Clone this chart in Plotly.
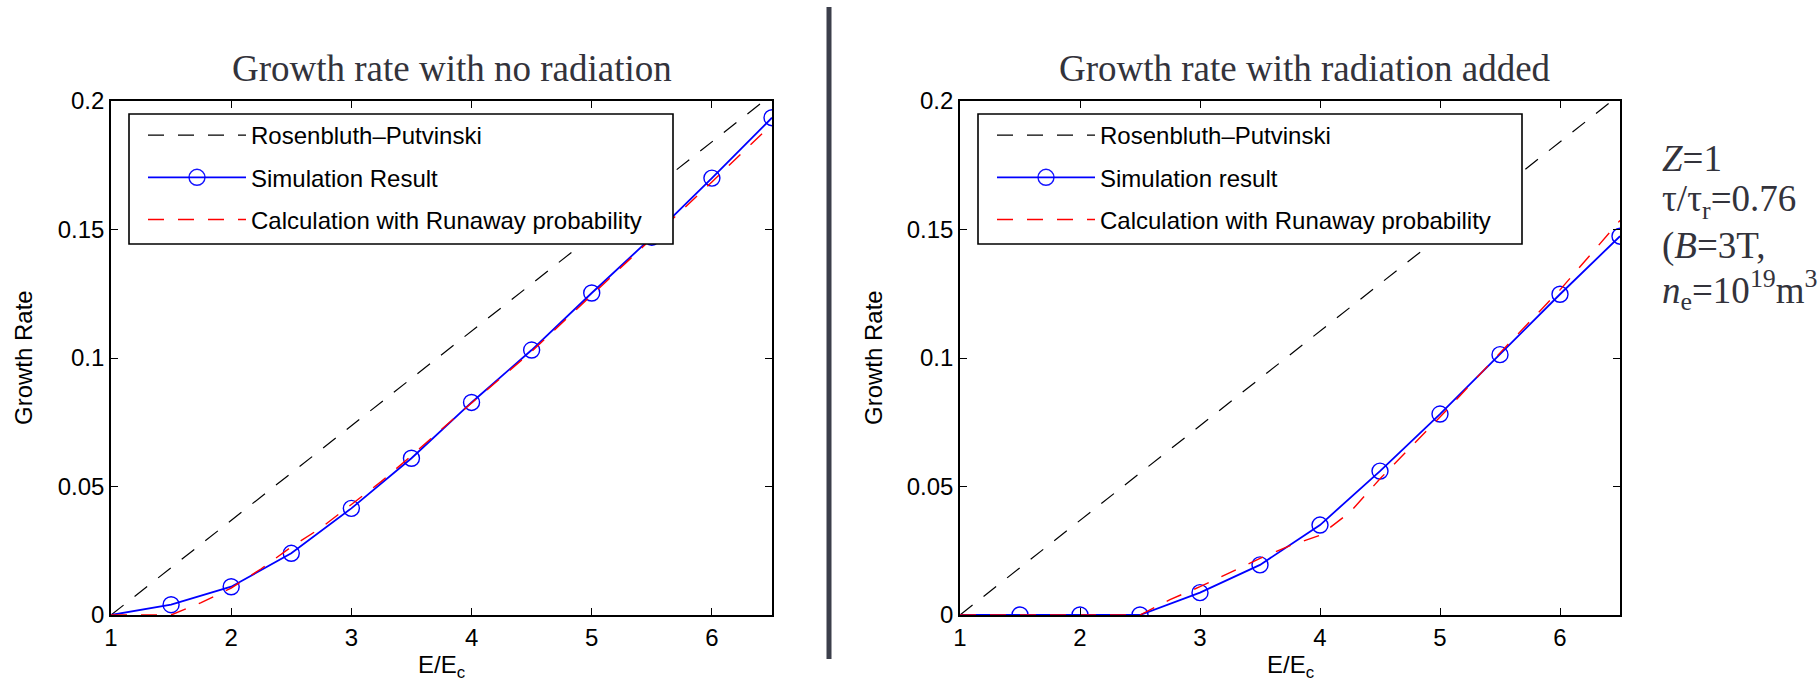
import plotly.graph_objects as go

# ---- data -------------------------------------------------------------
e_ratio = [1, 1.5, 2, 2.5, 3, 3.5, 4, 4.5, 5, 5.5, 6, 6.5]

sim_no_rad = [0, 0.004, 0.011, 0.024, 0.0415, 0.061, 0.0827, 0.1031, 0.1253, 0.147, 0.170, 0.1935]
sim_rad = [0, 0, 0, 0, 0.0087, 0.0195, 0.035, 0.056, 0.0782, 0.1013, 0.1248, 0.1474]

rp_x = [1, 6.5]
rp_y = [0, 0.2025]

calc_x_no_rad = [1, 1.25, 1.5, 1.75, 2, 2.25, 2.5, 2.75, 3, 3.25, 3.5, 4, 4.5, 5, 5.5, 6, 6.5]
calc_no_rad = [0, 0, 0, 0.0048, 0.0105, 0.018, 0.0265, 0.034, 0.043, 0.052, 0.062, 0.0825,
               0.1025, 0.1245, 0.1465, 0.1685, 0.191]

calc_x_rad = [1, 2.5, 2.75, 3, 3.25, 3.5, 3.75, 4, 4.25, 4.5, 5, 5.5, 6, 6.5]
calc_rad = [0, 0, 0.006, 0.011, 0.0165, 0.022, 0.027, 0.031, 0.040, 0.053, 0.077, 0.102, 0.1265, 0.1535]

x_ticks = [1, 2, 3, 4, 5, 6]
y_ticks = [0, 0.05, 0.1, 0.15, 0.2]
y_tick_text = ["0", "0.05", "0.1", "0.15", "0.2"]

W, H = 1820, 686
SANS = "Liberation Sans, Arial, Helvetica, sans-serif"
SERIF = "Liberation Serif, Times New Roman, serif"


def px(x):
    return x / W


def py(y):
    return 1 - y / H


# first point sits on the origin corner without a circle
marker_alpha = [0] + [1] * (len(e_ratio) - 1)

fig = go.Figure()

panels = [
    ("x", "y", "legend", sim_no_rad, "Simulation Result", calc_x_no_rad, calc_no_rad),
    ("x2", "y2", "legend2", sim_rad, "Simulation result", calc_x_rad, calc_rad),
]

for xa, ya, leg, sim, sim_name, cx, cy in panels:
    fig.add_trace(go.Scatter(
        x=rp_x, y=rp_y, xaxis=xa, yaxis=ya, legend=leg, legendgroup=leg + "_rp",
        mode="lines", name="Rosenbluth\u2013Putvinski",
        line=dict(color="black", width=1.2, dash="16px,14px"),
    ))
    fig.add_trace(go.Scatter(
        x=e_ratio, y=sim, xaxis=xa, yaxis=ya, legend=leg, legendgroup=leg + "_sim",
        mode="lines+markers", name=sim_name,
        line=dict(color="#0000ff", width=1.8),
        marker=dict(symbol="circle-open", size=16, color="#0000ff",
                    opacity=marker_alpha, line=dict(width=1.4, color="#0000ff")),
    ))
    fig.add_trace(go.Scatter(
        x=cx, y=cy, xaxis=xa, yaxis=ya, legend=leg, legendgroup=leg + "_calc",
        mode="lines", name="Calculation with Runaway probability",
        line=dict(color="#ff0000", width=1.4, dash="16px,14px"),
    ))

axis_common = dict(
    showgrid=False, zeroline=False, showline=True, linecolor="black", linewidth=1.6,
    mirror="ticks", ticks="inside", ticklen=7, tickwidth=1.3, tickcolor="black",
    tickfont=dict(family=SANS, size=24, color="black"), automargin=False,
)

x_dom_left = [px(111), px(772)]
x_dom_right = [px(960), px(1620)]
y_dom = [py(615), py(101)]

fig.update_layout(
    width=W, height=H,
    margin=dict(l=0, r=0, t=0, b=0, autoexpand=False),
    paper_bgcolor="white", plot_bgcolor="white",
    xaxis=dict(domain=x_dom_left, range=[1, 6.5], tickvals=x_ticks, anchor="y", **axis_common),
    yaxis=dict(domain=y_dom, range=[0, 0.2], tickvals=y_ticks, ticktext=y_tick_text,
               anchor="x", **axis_common),
    xaxis2=dict(domain=x_dom_right, range=[1, 6.5], tickvals=x_ticks, anchor="y2", **axis_common),
    yaxis2=dict(domain=y_dom, range=[0, 0.2], tickvals=y_ticks, ticktext=y_tick_text,
                anchor="x2", **axis_common),
    showlegend=True,
)

legend_common = dict(
    xanchor="left", yanchor="top", bgcolor="rgba(0,0,0,0)", borderwidth=0,
    font=dict(family=SANS, size=24, color="black"), itemwidth=98,
    traceorder="grouped", tracegroupgap=8,
)
fig.update_layout(
    legend=dict(x=px(143), y=py(113), **legend_common),
    legend2=dict(x=px(992), y=py(113), **legend_common),
)

# opaque framed boxes behind the legend entries
for left in (129, 978):
    fig.add_shape(type="rect", xref="paper", yref="paper", layer="above",
                  x0=px(left), x1=px(left + 544), y0=py(244), y1=py(114),
                  fillcolor="white", line=dict(color="black", width=1.6))

title_color = "#33333b"
annotations = [
    dict(text="Growth rate with no radiation", x=px(452), y=py(68)),
    dict(text="Growth rate with radiation added", x=px(1305), y=py(68)),
]
for a in annotations:
    a.update(xref="paper", yref="paper", xanchor="center", yanchor="middle", showarrow=False,
             font=dict(family=SERIF, size=37, color=title_color))

# axis titles
for cx in (441, 1290):
    annotations.append(dict(text="E/E<sub>c</sub>", x=px(cx), y=py(666), xref="paper", yref="paper",
                            xanchor="center", yanchor="middle", showarrow=False,
                            font=dict(family=SANS, size=24, color="black")))
for cx in (23, 873):
    annotations.append(dict(text="Growth Rate", x=px(cx), y=py(358), xref="paper", yref="paper",
                            xanchor="center", yanchor="middle", textangle=-90, showarrow=False,
                            font=dict(family=SANS, size=24, color="black")))

# parameter notes beside the right panel
notes = [
    ("<i>Z</i>=1", 158),
    ("\u03c4/\u03c4<sub>r</sub>=0.76", 202),
    ("(<i>B</i>=3T,", 246),
    ("<i>n</i><sub>e</sub>=10<sup>19</sup>m<sup>3</sup>", 290),
]
for txt, yc in notes:
    annotations.append(dict(text=txt, x=px(1660), y=py(yc), xref="paper", yref="paper",
                            xanchor="left", yanchor="middle", showarrow=False,
                            font=dict(family=SERIF, size=37, color=title_color)))

fig.update_layout(annotations=annotations)

# vertical divider between the panels
fig.add_shape(type="line", xref="paper", yref="paper",
              x0=px(829), x1=px(829), y0=py(7), y1=py(659),
              line=dict(color="#3c3f4b", width=5))

fig.write_html("out.html")
